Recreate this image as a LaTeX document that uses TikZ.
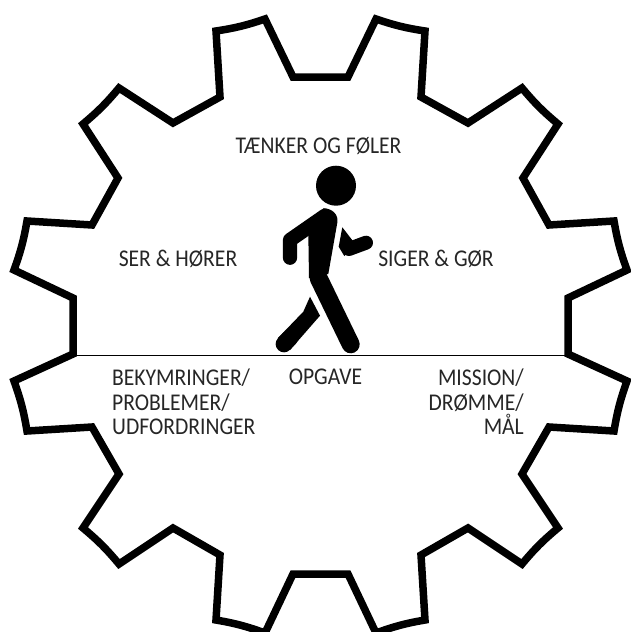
\documentclass[tikz,border=0pt]{standalone}
\usepackage{fontspec}
\setmainfont[FakeStretch=0.9]{Carlito}
\definecolor{labelgrey}{HTML}{262626}
\tikzset{
  gearline/.style={draw=black,line width=7.5pt,miter limit=10},
  groundline/.style={draw=black,line width=1.3pt},
  limb/.style={draw=black,line cap=round,line join=round},
  labeltext/.style={inner sep=0pt,text=labelgrey,font=\fontsize{24}{24.5}\selectfont}
}
\begin{document}
\begin{tikzpicture}[x=1pt,y=-1pt]
\useasboundingbox (0,0) rectangle (630,632);

\draw[gearline] (293,77) -- (265,19) to[bend left=5] (216,31) -- (220,97)
  -- (173,123) -- (119,88) to[bend left=5] (83,124) -- (118,178) -- (92,225)
  -- (27,221) to[bend left=5] (14,270) -- (73,298) -- (73,354)
  -- (14,381) to[bend left=5] (27,431) -- (92,427) -- (119,474)
  -- (83,528) to[bend left=5] (119,564) -- (173,528) -- (220,555)
  -- (216,620) to[bend left=5] (265,633) -- (293,574) -- (348,574)
  -- (376,633) to[bend left=5] (425,620) -- (421,555) -- (468,528)
  -- (522,564) to[bend left=5] (558,528) -- (522,474) -- (549,427)
  -- (614,431) to[bend left=5] (627,381) -- (568,354) -- (568,298)
  -- (627,270) to[bend left=5] (614,221) -- (549,225) -- (523,178)
  -- (558,124) to[bend left=5] (522,88) -- (468,123) -- (421,97)
  -- (425,31) to[bend left=5] (376,19) -- (348,77) -- cycle;

\coordinate (groundleft) at (73,355.5);
\coordinate (groundright) at (568,355.5);
\draw[groundline] (groundleft) -- (groundright);

\fill (336,185.7) circle (20);
\draw[limb,line width=14.3pt] (325,215.7) -- (290,240) -- (290,257.7);
\fill (323.3,208.3) .. controls (332.7,208.3) and (338.7,215) .. (337.3,222.7)
  -- (328.3,274) -- (309,278.3) -- (308.3,233.3) -- cycle;
\draw[limb,line width=18pt] (318.7,278.3) -- (350.7,344.3);
\fill (342.3,227.3) -- (352.7,240.7) -- (350,250) -- (344.3,256) -- (338.7,246.7) -- cycle;
\draw[limb,line width=14pt] (349,249) -- (366,242.7);
\fill (310,296.7) -- (320,315.7) -- (290,350) -- (278,338) -- (303.3,311.7) -- cycle;
\draw[limb,line width=16.7pt] (284,344) -- (290,337.7);

\node[labeltext] (thinkfeel) at (318.5,146) {TÆNKER OG FØLER};
\node[labeltext] (seehear) at (178,259) {SER \& HØRER};
\node[labeltext] (saydo) at (436,259) {SIGER \& GØR};
\node[labeltext,anchor=north west,align=left] (worries) at (112,369) {BEKYMRINGER/\\PROBLEMER/\\UDFORDRINGER};
\node[labeltext,anchor=north] (task) at (325.5,369) {OPGAVE};
\node[labeltext,anchor=north east,align=right] (mission) at (524,369) {MISSION/\\DRØMME/\\MÅL};
\end{tikzpicture}
\end{document}
